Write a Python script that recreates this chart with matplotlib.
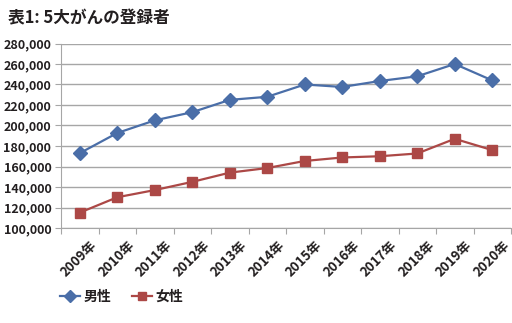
import matplotlib
matplotlib.use("Agg")
import matplotlib.pyplot as plt
from matplotlib.ticker import FuncFormatter, FixedLocator
import matplotlib.transforms as mtransforms

plt.rcParams['font.family'] = ['Noto Sans CJK JP', 'DejaVu Sans']

years = ['2009年', '2010年', '2011年', '2012年', '2013年', '2014年',
         '2015年', '2016年', '2017年', '2018年', '2019年', '2020年']
male = [173000, 192700, 205000, 213000, 225000, 228000,
        240000, 237600, 243400, 248000, 260000, 244000]
female = [115000, 130000, 137000, 145000, 154000, 158500,
          165400, 168800, 170000, 172700, 187000, 176000]

blue = '#4a6ea8'
red = '#ac4846'
grid = '#a6a6a6'

fig = plt.figure(figsize=(5.12, 3.23), dpi=100)
ax = fig.add_axes([61 / 512, 1 - 228 / 323, 450 / 512, (228 - 43.5) / 323])

x = list(range(len(years)))
ax.plot(x, male, color=blue, lw=1.6, marker='D', ms=7.5, mfc=blue, mec=blue, label='男性')
ax.plot(x, female, color=red, lw=1.6, marker='s', ms=7, mfc=red, mec=red, label='女性')

ax.set_xlim(-0.5, len(years) - 0.5)
ax.set_ylim(100000, 280000)
ax.set_yticks(range(100000, 280001, 20000))
ax.yaxis.set_major_formatter(FuncFormatter(lambda v, p: f'{int(v):,}'))
ax.grid(axis='y', color=grid, lw=1)
ax.set_axisbelow(True)

for s in ['top', 'right']:
    ax.spines[s].set_visible(False)
ax.spines['left'].set_color(grid)
ax.spines['bottom'].set_color(grid)

ax.tick_params(axis='y', length=4, color=grid, labelsize=9, pad=3,
               labelcolor='#231f20')
ax.xaxis.set_major_locator(FixedLocator([i + 0.5 for i in range(-1, len(years))]))
ax.xaxis.set_major_formatter(FuncFormatter(lambda v, p: ''))
ax.xaxis.set_minor_locator(FixedLocator(x))
ax.set_xticklabels(years, minor=True)
ax.tick_params(axis='x', which='major', length=4, color=grid)
ax.tick_params(axis='x', which='minor', length=0, labelsize=9.5, labelcolor='#231f20', pad=7)
offset = mtransforms.ScaledTranslation(10 / 100, 0, fig.dpi_scale_trans)
for lab in ax.get_xticklabels(minor=True):
    lab.set_rotation(45)
    lab.set_ha('right')
    lab.set_va('top')
    lab.set_rotation_mode('anchor')
    lab.set_fontweight('bold')
    lab.set_transform(lab.get_transform() + offset)
for lab in ax.get_yticklabels():
    lab.set_fontweight('bold')

fig.text(8 / 512, 1 - 18 / 323, '表1: 5大がんの登録者', fontsize=12, fontweight='bold',
         va='center', ha='left', color='#231f20')

leg = fig.legend(loc='center left', bbox_to_anchor=(60 / 512, 1 - 297 / 323), ncol=2,
                 frameon=False, fontsize=10, handlelength=1.45, columnspacing=1.45,
                 handletextpad=0.25, borderpad=0, borderaxespad=0, markerscale=0.85)
for t in leg.get_texts():
    t.set_fontweight('bold')
    t.set_color('#231f20')

fig.savefig('out.png', dpi=100)
